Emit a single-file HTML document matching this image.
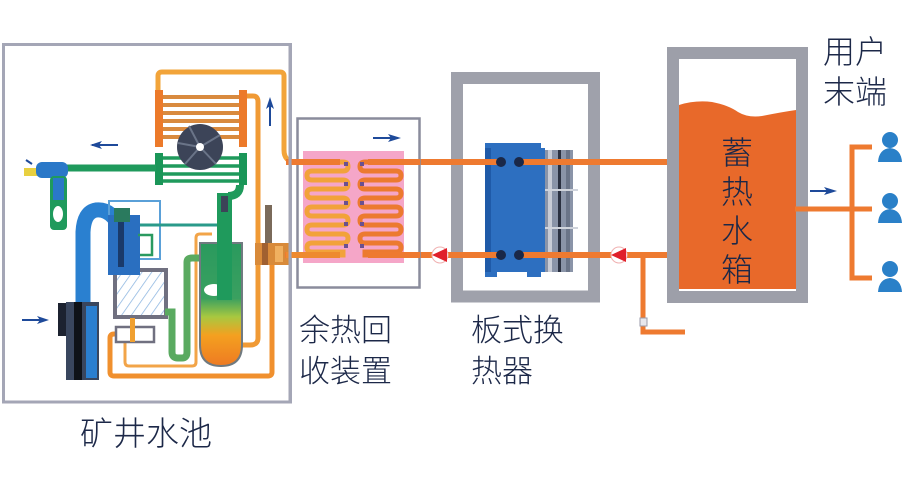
<!DOCTYPE html>
<html><head><meta charset="utf-8"><style>
html,body{margin:0;padding:0;background:#fff;}
svg{display:block;}
text{font-family:"Liberation Sans","Noto Sans CJK SC",sans-serif;fill:#1c2848;font-weight:300;}
</style></head><body>
<svg width="904" height="481" viewBox="0 0 904 481" xmlns="http://www.w3.org/2000/svg">
<defs>
<linearGradient id="tankg" x1="0" y1="0" x2="0" y2="1">
<stop offset="0" stop-color="#2a9a5e"/><stop offset="0.45" stop-color="#3aa060"/><stop offset="0.6" stop-color="#a8c840"/><stop offset="0.75" stop-color="#f4a020"/><stop offset="1" stop-color="#ee7a22"/>
</linearGradient>
<pattern id="hatch" width="8" height="8" patternUnits="userSpaceOnUse" patternTransform="rotate(35)">
<rect width="8" height="8" fill="#fff"/><line x1="0" y1="0" x2="0" y2="8" stroke="#8ab4e0" stroke-width="1.5"/>
</pattern>
</defs>

<!-- LEFT BOX -->
<rect x="3.5" y="44.5" width="287" height="357.5" fill="#fff" stroke="#a4a6b6" stroke-width="3"/>

<path d="M158,92 V76 Q158,72 162,72 H280 Q284,72 284,76 V150 Q284,162 296,162" fill="none" stroke="#f2a43a" stroke-width="5"/>
<path d="M245,96 H253 Q258,96 258,102 V338 Q258,345 250,345 H240" fill="none" stroke="#f09a35" stroke-width="5"/>
<path d="M272,265 V372 Q272,376 268,376 H114 Q110,376 110,372 V338 Q110,334 114,334 H120" fill="none" stroke="#f0902e" stroke-width="5"/>
<path d="M125,342 V362 Q125,366 129,366 H192 Q196,366 196,362 V238 Q196,234 200,234 H212" fill="none" stroke="#f2a448" stroke-width="3"/>

<!-- orange radiator -->
<rect x="155" y="90" width="92" height="57" fill="#fff"/>
<g stroke="#d98a3e" stroke-width="4">
<line x1="160" y1="97" x2="243" y2="97"/><line x1="160" y1="105" x2="243" y2="105"/><line x1="160" y1="113" x2="243" y2="113"/><line x1="160" y1="121" x2="243" y2="121"/><line x1="160" y1="129" x2="243" y2="129"/><line x1="160" y1="137" x2="243" y2="137"/>
</g>
<rect x="155" y="90" width="8" height="57" fill="#ec7a2a"/>
<rect x="239" y="90" width="8" height="57" fill="#ec7a2a"/>

<!-- green radiator -->
<rect x="155" y="153" width="92" height="32" fill="#fff"/>
<g stroke="#1f9a5c" stroke-width="3.5">
<line x1="160" y1="158" x2="243" y2="158"/><line x1="160" y1="166" x2="243" y2="166"/><line x1="160" y1="174" x2="243" y2="174"/><line x1="160" y1="181" x2="243" y2="181"/>
</g>
<rect x="155" y="153" width="8" height="32" fill="#1a9658"/>
<rect x="239" y="153" width="8" height="32" fill="#1a9658"/>

<!-- fan -->
<circle cx="200" cy="147" r="23" fill="#3c4458"/>
<g stroke="#6a7488" stroke-width="2">
<line x1="200" y1="147" x2="189" y2="126"/><line x1="200" y1="147" x2="220" y2="135"/><line x1="200" y1="147" x2="216" y2="164"/><line x1="200" y1="147" x2="185" y2="164"/><line x1="200" y1="147" x2="178" y2="143"/>
</g>
<circle cx="200" cy="147" r="4" fill="#fff"/>

<line x1="62" y1="168" x2="156" y2="168" stroke="#1f9a5c" stroke-width="7"/>
<rect x="24" y="168" width="16" height="8" fill="#e8d040"/>
<rect x="36" y="162" width="32" height="16" rx="6" fill="#2a78c8"/>
<rect x="50" y="176" width="17" height="54" rx="4" fill="#1f9a5c"/>
<rect x="53" y="178" width="11" height="22" fill="#2a78c8"/>
<ellipse cx="58" cy="214" rx="5" ry="8" fill="#fff"/>
<line x1="26" y1="160" x2="32" y2="164" stroke="#1e4a9a" stroke-width="2"/>

<path d="M122,232 Q112,208 96,210 Q84,212 83,232 V305" fill="none" stroke="#2a80d0" stroke-width="15"/>

<rect x="58" y="303" width="12" height="33" fill="#1c2230"/>
<rect x="66" y="302" width="33" height="78" fill="#39465e"/>
<rect x="74" y="302" width="8" height="78" fill="#0e1218"/>
<rect x="86" y="306" width="11" height="72" fill="#2a7fd0"/>

<rect x="109" y="201" width="51" height="58" fill="none" stroke="#5aa0d8" stroke-width="2"/>
<rect x="115" y="270" width="51" height="47" fill="url(#hatch)" stroke="#707080" stroke-width="4"/>
<rect x="108" y="215" width="32" height="60" fill="#2a6fc0"/>
<rect x="114" y="208" width="16" height="14" fill="#2a7a5e"/>
<rect x="118" y="222" width="6" height="45" fill="#1a3a6a"/>
<path d="M140,225 H220" stroke="#2a9a8a" stroke-width="3" fill="none"/>
<path d="M138,235 H152 V255 H140" stroke="#2a9a60" stroke-width="2.5" fill="none"/>

<path d="M165,312 H172 V352 Q172,358 178,358 H182 Q187,358 187,352 V262 Q187,258 192,258 H202" fill="none" stroke="#5aaa60" stroke-width="7"/>

<rect x="116" y="327" width="38" height="15" fill="#fff" stroke="#707080" stroke-width="2.5"/>
<rect x="130" y="318" width="5" height="24" fill="#f0a030"/>

<path d="M200,243 H242 V345 Q242,366 221,366 Q200,366 200,345 Z" fill="url(#tankg)" stroke="#707a80" stroke-width="2"/>
<ellipse cx="214" cy="290" rx="10" ry="6" fill="#fff"/>
<rect x="217" y="193" width="15" height="107" fill="#1f9a5c"/>
<path d="M228,196 Q240,196 240,185" fill="none" stroke="#1f9a5c" stroke-width="8"/>
<rect x="221" y="196" width="7" height="16" fill="#3c4458"/>

<rect x="265" y="205" width="7" height="40" fill="#7a6a5a"/>
<rect x="255" y="243" width="35" height="22" fill="#d88a3a"/>
<rect x="262" y="243" width="6" height="22" fill="#a06030"/>
<rect x="275" y="246" width="8" height="16" fill="#f0b060"/>

<g fill="#1e4a9a" stroke="#1e4a9a">
<line x1="92" y1="145" x2="118" y2="145" stroke-width="2"/><polygon points="90,145 102,141 99,145 102,149" stroke="none"/>
<line x1="22" y1="320" x2="46" y2="320" stroke-width="2"/><polygon points="49,320 37,316 40,320 37,324" stroke="none"/>
<line x1="270" y1="100" x2="270" y2="126" stroke-width="2"/><polygon points="270,97 266,109 270,106 274,109" stroke="none"/>
</g>

<!-- MAIN PIPES -->
<line x1="286" y1="162" x2="681" y2="162" stroke="#ee7a30" stroke-width="6"/>
<line x1="285" y1="255" x2="681" y2="255" stroke="#ee7a30" stroke-width="6"/>

<!-- RECOVERY BOX -->
<rect x="297.5" y="118.5" width="122" height="169" fill="none" stroke="#8a8c9c" stroke-width="2.5"/>
<rect x="303" y="151" width="101" height="112" fill="#f5a6c8"/>
<path d="M290,162 H343 Q348,162 348,166.5 Q348,171 343,171 H312 Q307,171 307,175.5 Q307,180 312,180 H343 Q348,180 348,184.5 Q348,189 343,189 H312 Q307,189 307,193.5 Q307,198 312,198 H343 Q348,198 348,202.5 Q348,207 343,207 H312 Q307,207 307,211.5 Q307,216 312,216 H343 Q348,216 348,220.5 Q348,225 343,225 H312 Q307,225 307,229.5 Q307,234 312,234 H343 Q348,234 348,238.5 Q348,243 343,243 H312 Q307,243 307,247.5 Q307,252 312,252 H343 V255 H290" fill="none" stroke="#f2a23a" stroke-width="5"/>
<path d="M420,162 H365 Q360,162 360,166.5 Q360,171 365,171 H396 Q401,171 401,175.5 Q401,180 396,180 H365 Q360,180 360,184.5 Q360,189 365,189 H396 Q401,189 401,193.5 Q401,198 396,198 H365 Q360,198 360,202.5 Q360,207 365,207 H396 Q401,207 401,211.5 Q401,216 396,216 H365 Q360,216 360,220.5 Q360,225 365,225 H396 Q401,225 401,229.5 Q401,234 396,234 H365 Q360,234 360,238.5 Q360,243 365,243 H396 Q401,243 401,247.5 Q401,252 396,252 H365 V255 H420" fill="none" stroke="#ec7a30" stroke-width="5"/>
<line x1="286" y1="162" x2="340" y2="162" stroke="#ee7a30" stroke-width="6"/>
<line x1="368" y1="162" x2="420" y2="162" stroke="#ee7a30" stroke-width="6"/>
<line x1="286" y1="255" x2="340" y2="255" stroke="#ee8a30" stroke-width="6"/>
<line x1="368" y1="255" x2="420" y2="255" stroke="#ee7a30" stroke-width="6"/>
<g fill="#6a5090">
<rect x="344" y="162" width="4" height="4"/><rect x="344" y="182" width="4" height="4"/><rect x="344" y="201" width="4" height="4"/><rect x="344" y="222" width="4" height="4"/><rect x="344" y="244" width="4" height="4"/>
<rect x="360" y="162" width="4" height="4"/><rect x="360" y="182" width="4" height="4"/><rect x="360" y="201" width="4" height="4"/><rect x="360" y="222" width="4" height="4"/><rect x="360" y="244" width="4" height="4"/>
</g>
<line x1="373" y1="138" x2="398" y2="138" stroke="#1e4a9a" stroke-width="2"/><polygon points="401,138 388,134 391,138 388,142" fill="#1e4a9a"/>

<line x1="290" y1="44" x2="290" y2="402" stroke="#a4a6b6" stroke-width="3"/>

<!-- PLATE EXCHANGER FRAME -->
<rect x="457" y="78" width="137" height="218.5" fill="none" stroke="#9fa1ab" stroke-width="12"/>
<line x1="448" y1="162" x2="605" y2="162" stroke="#ee7a30" stroke-width="6"/>
<line x1="448" y1="255" x2="605" y2="255" stroke="#ee7a30" stroke-width="6"/>
<rect x="540" y="150" width="33" height="122" fill="#8a94a8"/>
<rect x="548" y="150" width="4" height="122" fill="#c8ccd6"/>
<rect x="558" y="150" width="3" height="122" fill="#2a3040"/>
<rect x="566" y="150" width="4" height="122" fill="#6a7488"/>
<line x1="540" y1="190" x2="578" y2="190" stroke="#d0d4dc" stroke-width="2"/>
<line x1="540" y1="228" x2="578" y2="228" stroke="#d0d4dc" stroke-width="2"/>
<path d="M485,143 H541 V148 H545 V272 H541 V277 H527 V272 H497 V277 H485 Z" fill="#2d6fc0"/>
<rect x="485" y="148" width="6" height="124" fill="#1f5aa8"/>
<line x1="540" y1="255" x2="605" y2="255" stroke="#ee7a30" stroke-width="6"/>
<line x1="540" y1="162" x2="605" y2="162" stroke="#ee7a30" stroke-width="6"/>
<rect x="505" y="160" width="10" height="100" fill="#2d6fc0"/>
<line x1="448" y1="162" x2="500" y2="162" stroke="#ee7a30" stroke-width="6"/>
<line x1="448" y1="255" x2="500" y2="255" stroke="#ee7a30" stroke-width="6"/>
<line x1="520" y1="162" x2="545" y2="162" stroke="#ee7a30" stroke-width="6"/>
<line x1="520" y1="255" x2="545" y2="255" stroke="#ee7a30" stroke-width="6"/>
<g fill="#1a2848"><circle cx="501" cy="162" r="5"/><circle cx="519" cy="162" r="5"/><circle cx="501" cy="255" r="5"/><circle cx="519" cy="255" r="5"/></g>

<circle cx="440" cy="255" r="8" fill="#fff" stroke="#f0b0b0" stroke-width="1"/>
<polygon points="432,255 447,248 447,262" fill="#e0202a"/>
<circle cx="619" cy="255" r="8" fill="#fff" stroke="#f0b0b0" stroke-width="1"/>
<polygon points="611,255 626,248 626,262" fill="#e0202a"/>

<path d="M643,255 V332 H685" fill="none" stroke="#ee7a30" stroke-width="5"/>
<rect x="640" y="318" width="7" height="8" fill="#e8e8ee" stroke="#9a9aa8" stroke-width="1"/>

<!-- TANK -->
<rect x="673" y="53" width="129" height="244" fill="#fff" stroke="#9d9fa9" stroke-width="12"/>
<path d="M679,105 Q695,100 712,102 Q728,105 738,112 Q748,118 762,116 Q782,112 796,110 V289 H679 Z" fill="#e8692a"/>
<text x="721" y="164" font-size="32">蓄</text>
<text x="721" y="203" font-size="32">热</text>
<text x="721" y="242" font-size="32">水</text>
<text x="721" y="281" font-size="32">箱</text>

<line x1="795" y1="209" x2="872" y2="209" stroke="#ee7a30" stroke-width="5"/>
<path d="M872,147 H852 V278 H872" fill="none" stroke="#ee7a30" stroke-width="5"/>
<line x1="810" y1="191" x2="833" y2="191" stroke="#1e4a9a" stroke-width="2"/><polygon points="837,191 824,187 827,191 824,195" fill="#1e4a9a"/>

<g fill="#2a80c8">
<circle cx="890" cy="140" r="8"/><path d="M878,162 Q879,149 890,148 Q901,149 902,162 Z"/>
<circle cx="890" cy="201" r="8"/><path d="M878,223 Q879,210 890,209 Q901,210 902,223 Z"/>
<circle cx="890" cy="269" r="8"/><path d="M878,292 Q879,279 890,278 Q901,279 902,292 Z"/>
</g>

<text x="80" y="445" font-size="33">矿井水池</text>
<text x="299" y="341" font-size="31">余热回</text>
<text x="299" y="382" font-size="31">收装置</text>
<text x="471" y="341" font-size="31">板式换</text>
<text x="471" y="382" font-size="31">热器</text>
<text x="823" y="63" font-size="32">用户</text>
<text x="823" y="103" font-size="32">末端</text>
</svg>
</body></html>
